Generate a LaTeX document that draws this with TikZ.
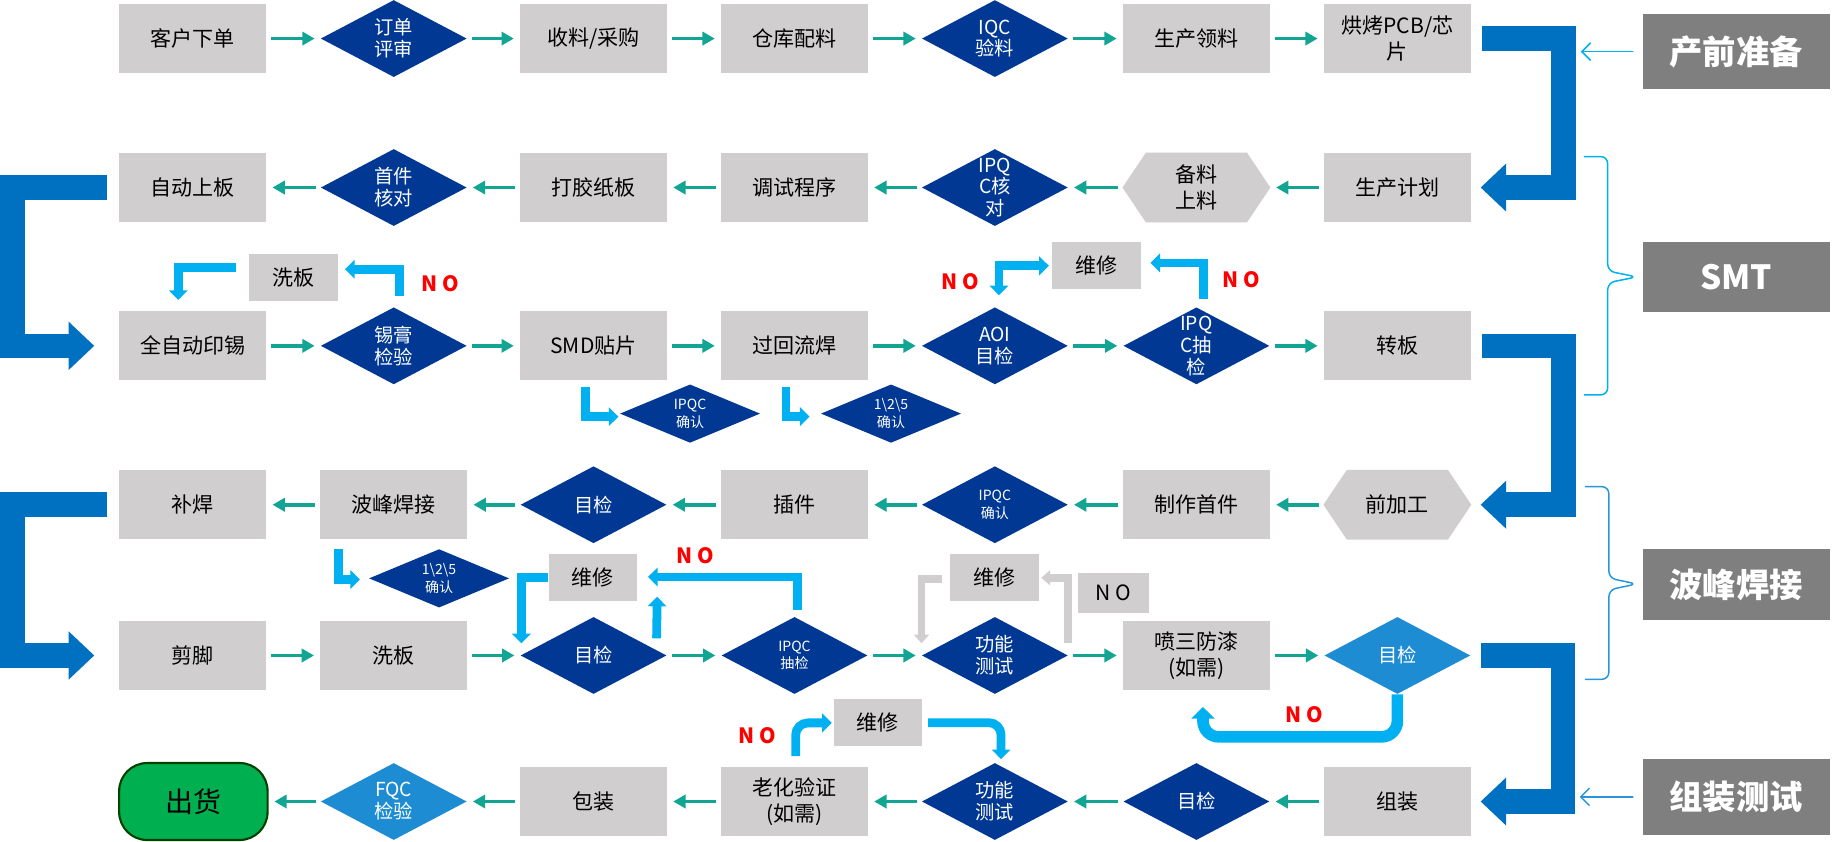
\documentclass[tikz,border=0pt]{standalone}
\usepackage{fontspec}
\setmainfont{Noto Sans CJK SC}
\usetikzlibrary{arrows.meta,calc,backgrounds,shapes.geometric}
\definecolor{boxgray}{RGB}{208,206,207}
\definecolor{darkblue}{RGB}{0,56,147}
\definecolor{lightblue}{RGB}{30,140,210}
\definecolor{flowteal}{RGB}{18,165,148}
\definecolor{bigblue}{RGB}{0,112,192}
\definecolor{loopcyan}{RGB}{0,176,240}
\definecolor{bracecol}{RGB}{40,150,220}
\definecolor{labgray}{RGB}{128,127,128}
\definecolor{nored}{RGB}{255,0,0}
\definecolor{shipgreen}{RGB}{0,176,80}

\begin{document}
\begin{tikzpicture}[line cap=round,line join=round,x=0.0234cm,y=-0.0234cm,
  box/.style={fill=boxgray,minimum width=83.9pt,minimum height=39.3pt,inner sep=1pt,align=center,font=\fontsize{12}{15}\selectfont},
  sbox/.style={fill=boxgray,minimum width=50.6pt,minimum height=26.6pt,inner sep=1pt,font=\fontsize{12}{15}\selectfont},
  hexa/.style={minimum width=83.9pt,minimum height=39.3pt,inner sep=1pt,align=center,font=\fontsize{12}{15}\selectfont},
  dia/.style={diamond,fill=darkblue,minimum width=83.2pt,minimum height=43.9pt,inner sep=0pt},
  sdia/.style={diamond,fill=darkblue,minimum width=79.9pt,minimum height=33.3pt,inner sep=0pt},
  dtxt/.style={text=white,align=center,inner sep=0pt,font=\fontsize{11}{12.5}\selectfont},
  stxt/.style={text=white,align=center,inner sep=0pt,font=\fontsize{8}{10}\selectfont},
  endbox/.style={fill=shipgreen,draw=black!75!green,line width=1.2pt,rounded corners=16pt,minimum width=84.6pt,minimum height=43.9pt,font=\fontsize{16}{18}\selectfont},
  lab/.style={fill=labgray,text=white,minimum width=106.5pt,font=\fontsize{19}{22}\selectfont\bfseries},
  no/.style={text=nored,font=\fontsize{12}{14}\selectfont\bfseries},
  flow/.style={draw=flowteal,line width=2.2pt,line cap=butt,-{Triangle[length=7pt,width=7.5pt]},shorten <=2.7pt,shorten >=3.3pt},
  loop/.style={draw=loopcyan,line width=5pt,line cap=butt,line join=miter,-{Triangle[length=5.5pt,width=10.5pt]}},
  grayloop/.style={draw=boxgray,line width=4.5pt,line cap=butt,line join=miter,-{Triangle[length=5pt,width=8.5pt]}},
  bigarr/.style={draw=bigblue,line width=14pt,line cap=butt,line join=miter,-{Triangle[length=14.6pt,width=26.6pt]}},
  thinarr/.style={draw=loopcyan,line width=0.85pt,-{Straight Barb[length=5pt,width=10pt]},shorten <=5.5pt},
  brc/.style={draw=loopcyan,line width=0.85pt,rounded corners=4pt}]
\path[use as bounding box] (0,0) rectangle (1568,720);

\node[box] (order) at (165,33) {客户下单};
\node[dia,label={[dtxt]center:{订单\\评审}}] (review) at (337,33) {};
\node[box] (purchase) at (508,33) {收料/采购};
\node[box] (stock) at (680,33) {仓库配料};
\node[dia,label={[dtxt]center:{IQC\\验料}}] (iqc) at (851.5,33) {};
\node[box] (issue) at (1024,33) {生产领料};
\node[box] (bake) at (1196,33) {烘烤PCB/芯\\片};

\node[box] (plan) at (1196,160.5) {生产计划};
\node[hexa] (feeder) at (1024,160.5) {备料\\上料};
\node[dia,label={[dtxt]center:{IPQ\\C核\\对}}] (ipqcchk) at (851.5,160.5) {};
\node[box] (debug) at (680,160.5) {调试程序};
\node[box] (tape) at (508,160.5) {打胶纸板};
\node[dia,label={[dtxt]center:{首件\\核对}}] (firstchk) at (337,160.5) {};
\node[box] (loader) at (165,160.5) {自动上板};

\node[box] (printer) at (165,296) {全自动印锡};
\node[dia,label={[dtxt]center:{锡膏\\检验}}] (paste) at (337,296) {};
\node[box] (smd) at (508,296) {SMD贴片};
\node[box] (reflow) at (680,296) {过回流焊};
\node[dia,label={[dtxt]center:{AOI\\目检}}] (aoi) at (851.5,296) {};
\node[dia,label={[dtxt]center:{IPQ\\C抽\\检}}] (ipqcspl) at (1024,296) {};
\node[box] (transfer) at (1196,296) {转板};
\node[sbox] (wash1) at (251,237.4) {洗板};
\node[sbox] (repair1) at (938.6,227) {维修};
\node[sdia,label={[stxt]center:{IPQC\\确认}}] (confirm1) at (590.6,354) {};
\node[sdia,label={[stxt]center:{1\textbackslash 2\textbackslash 5\\确认}}] (confirm2) at (762.6,354) {};

\node[hexa] (pre) at (1196,432) {前加工};
\node[box] (firstpc) at (1024,432) {制作首件};
\node[dia,label={[stxt]center:{IPQC\\确认}}] (ipqccfm) at (851.5,432) {};
\node[box] (insert) at (680,432) {插件};
\node[dia,label={[dtxt]center:{目检}}] (visual1) at (508,432) {};
\node[box] (wave) at (337,432) {波峰焊接};
\node[box] (touchup) at (165,432) {补焊};
\node[sdia,label={[stxt]center:{1\textbackslash 2\textbackslash 5\\确认}}] (confirm3) at (375.8,495) {};
\node[sbox] (repair2) at (507.5,494.5) {维修};
\node[sbox] (repair3) at (851.5,494.5) {维修};
\node[sbox,minimum width=40pt,minimum height=22.6pt] (nobox) at (953,507.5) {N O};

\node[box] (trim) at (165,561) {剪脚};
\node[box] (wash2) at (337,561) {洗板};
\node[dia,label={[dtxt]center:{目检}}] (visual2) at (508,561) {};
\node[dia,label={[stxt]center:{IPQC\\抽检}}] (ipqcspl2) at (680,561) {};
\node[dia,label={[dtxt]center:{功能\\测试}}] (func1) at (851.5,561) {};
\node[box] (coating) at (1024,561) {喷三防漆\\(如需)};
\node[dia,fill=lightblue,label={[dtxt]center:{目检}}] (visual3) at (1196,561) {};

\node[endbox] (ship) at (165.5,686) {出货};
\node[dia,fill=lightblue,label={[dtxt]center:{FQC\\检验}}] (fqc) at (337,686) {};
\node[box] (pack) at (508,686) {包装};
\node[box] (aging) at (680,686) {老化验证\\(如需)};
\node[dia,label={[dtxt]center:{功能\\测试}}] (func2) at (851.5,686) {};
\node[dia,label={[dtxt]center:{目检}}] (visual4) at (1024,686) {};
\node[box] (assembly) at (1196,686) {组装};
\node[sbox] (repair4) at (751.4,618.2) {维修};

\begin{scope}[on background layer]
\fill[white] (0,0) rectangle (1568,720);
\foreach \h in {feeder,pre}
  \fill[boxgray] (\h.west) -- ($(\h.north west)+(20,0)$) -- ($(\h.north east)+(-20,0)$) -- (\h.east)
    -- ($(\h.south east)+(-20,0)$) -- ($(\h.south west)+(20,0)$) -- cycle;
\end{scope}

\node[lab,minimum height=42.9pt] (prep) at (1486,44.2) {产前准备};
\node[lab,minimum height=40pt] (smtlab) at (1486,236.8) {SMT};
\node[lab,minimum height=40.3pt] (wavelab) at (1486,500.3) {波峰焊接};
\node[lab,minimum height=43.3pt] (asmlab) at (1486,682) {组装测试};

\node[no] (no1) at (377,243) {N O};
\node[no] (no2) at (822,241) {N O};
\node[no] (no3) at (1062,239) {N O};
\node[no] (no4) at (595,475.5) {N O};
\node[no] (no5) at (648,630) {N O};
\node[no] (no6) at (1116,611.6) {N O};

\foreach \a/\b in {order/review,review/purchase,purchase/stock,stock/iqc,iqc/issue,issue/bake,
  plan/feeder,feeder/ipqcchk,ipqcchk/debug,debug/tape,tape/firstchk,firstchk/loader,
  printer/paste,paste/smd,smd/reflow,reflow/aoi,aoi/ipqcspl,ipqcspl/transfer,
  pre/firstpc,firstpc/ipqccfm,ipqccfm/insert,insert/visual1,visual1/wave,wave/touchup,
  trim/wash2,wash2/visual2,visual2/ipqcspl2,ipqcspl2/func1,func1/coating,coating/visual3,
  assembly/visual4,visual4/func2,func2/aging,aging/pack,pack/fqc,fqc/ship}
  \draw[flow] (\a) -- (\b);

\draw[bigarr,shorten <=6pt,shorten >=5.3pt] (bake.east) -- ++(79,0) |- (plan.east);
\draw[bigarr,shorten <=6pt,shorten >=5.3pt] (transfer.east) -- ++(79,0) |- (pre.east);
\draw[bigarr,shorten <=6pt,shorten >=5.3pt] (visual3.east) -- ++(79,0) |- (assembly.east);
\draw[bigarr,shorten <=6.7pt,shorten >=14pt] (loader.west) -- ++(-91,0) |- (printer.west);
\draw[bigarr,shorten <=6.7pt,shorten >=14pt] (touchup.west) -- ++(-91,0) |- (trim.west);

\draw[loop] ($(paste.north)+(5,-9)$) |- ($(wash1.east)+(6,-7)$);
\draw[loop] ($(wash1.west)+(-11,-8.4)$) -| ($(printer.north)+(-12.4,-9.5)$);
\draw[loop,{Triangle[length=5.5pt,width=10.5pt]}-{Triangle[length=5.5pt,width=10.5pt]}] ($(repair1.west)+(-2.6,0.5)$) -| ($(aoi.north)+(3.5,-10)$);
\draw[loop] ($(ipqcspl.north)+(6.3,-7)$) |- ($(repair1.east)+(7.7,-2)$);
\draw[loop] ($(smd.south)+(-7.2,5)$) |- ($(confirm1.west)+(-1,2.6)$);
\draw[loop] ($(reflow.south)+(-7.2,5)$) |- ($(confirm2.west)+(-9.4,2.6)$);
\draw[loop] ($(wave.south)+(-47,8)$) |- ($(confirm3.west)+(-7.4,1)$);
\draw[loop] (repair2.west) -| ($(visual2.west)+(1,-10.4)$);
\draw[loop] ($(visual2.east)+(-8.8,-14.7)$) -- ($(repair2.east)+(16.7,16.2)$);
\draw[loop] ($(ipqcspl2.north)+(2.5,-6)$) |- ($(repair2.east)+(8.8,-0.7)$);
\draw[grayloop] ($(repair3.west)+(-7,1)$) -| ($(func1.west)+(0,-10.4)$);
\draw[grayloop] ($(func1.east)+(-0.3,-10.4)$) |- ($(repair3.east)+(1.5,0)$);
\draw[loop,rounded corners=7pt] ($(aging.north)+(1,-9)$) |- ($(repair4.west)+(-1.2,0.5)$);
\draw[loop,rounded corners=7pt] ($(repair4.east)+(4.6,0.3)$) -| ($(func2.north)+(5.3,-3)$);
\draw[loop,line width=6.6pt,-{Triangle[length=6.6pt,width=13pt]},rounded corners=9pt] (visual3.south) -- ++(0,36.4) -| ($(coating.south)+(5.6,14.3)$);

\coordinate (prepto) at (1353,44.2);
\coordinate (asmto) at (1352,682);
\draw[thinarr] (prep) -- (prepto);
\draw[thinarr,draw=bracecol] (asmlab) -- (asmto);
\coordinate (smttop) at (1356,134);
\coordinate (wavetop) at (1357,416.5);
\draw[brc] (smttop) -- ++(20,0) -- ++(0,98) -- ++(25,5) -- ++(-25,5) -- ++(0,96) -- ++(-20,0);
\draw[brc,draw=bracecol] (wavetop) -- ++(20,0) -- ++(0,78.3) -- ++(24,5) -- ++(-24,5) -- ++(0,76.6) -- ++(-20,0);
\end{tikzpicture}
\end{document}
